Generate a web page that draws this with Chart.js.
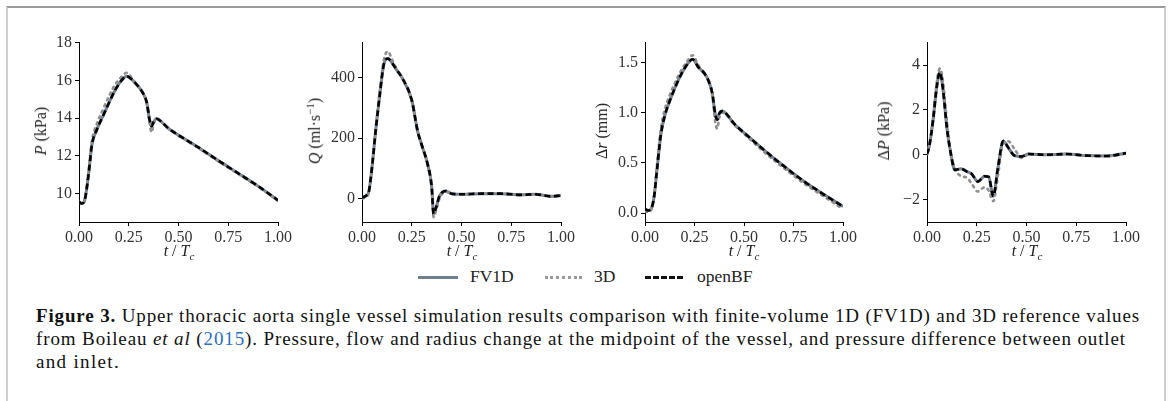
<!DOCTYPE html>
<html>
<head>
<meta charset="utf-8">
<script src="https://cdn.jsdelivr.net/npm/chart.js@4.4.1/dist/chart.umd.min.js"></script>
<style>
  html, body { margin: 0; padding: 0; background: #fff; }
  body { width: 1170px; height: 401px; position: relative; overflow: hidden; font-family: "Liberation Serif", "DejaVu Serif", serif; }
  .frame { position: absolute; left: 6px; top: 6px; width: 1156px; height: 400px; border-top: 2px solid #9a9a9a; border-left: 2px solid #cfcfcf; border-right: 2px solid #cfcfcf; }
  .panel { position: absolute; top: 30px; height: 222px; }
  .xt { position: absolute; top: 242px; font-size: 16px; color: #222; transform: translateX(-50%); white-space: nowrap; }
  .yt { position: absolute; font-size: 16px; color: #222; transform: translate(-50%, -50%) rotate(-90deg); white-space: nowrap; }
  .legend { position: absolute; top: 265px; left: 418px; height: 24px; font-size: 17.5px; color: #222; }
  .legend span { position: absolute; top: 1px; white-space: nowrap; }
  .legend i.s { position: absolute; top: 11px; height: 0; }
  .caption { position: absolute; left: 36px; top: 305px; font-size: 19px; line-height: 22.8px; color: #111; }
  .caption .ln { display: block; white-space: nowrap; }
  .caption a { color: #2a6fc0; text-decoration: none; }
</style>
</head>
<body>
<div class="frame"></div>

<div class="panel" id="p1"><canvas id="c1"></canvas></div>
<div class="panel" id="p2"><canvas id="c2"></canvas></div>
<div class="panel" id="p3"><canvas id="c3"></canvas></div>
<div class="panel" id="p4"><canvas id="c4"></canvas></div>

<div class="yt" style="left:41px; top:131px;"><i>P</i> (kPa)</div>
<div class="yt" style="left:314px; top:131px;"><i>Q</i> (ml·s<sup style="font-size:11px">−1</sup>)</div>
<div class="yt" style="left:602px; top:131px;">Δ<i>r</i> (mm)</div>
<div class="yt" style="left:884px; top:131px;">Δ<i>P</i> (kPa)</div>

<div class="xt" style="left:179px;"><i>t</i> / <i>T</i><sub style="font-size:11px"><i>c</i></sub></div>
<div class="xt" style="left:462px;"><i>t</i> / <i>T</i><sub style="font-size:11px"><i>c</i></sub></div>
<div class="xt" style="left:744px;"><i>t</i> / <i>T</i><sub style="font-size:11px"><i>c</i></sub></div>
<div class="xt" style="left:1027px;"><i>t</i> / <i>T</i><sub style="font-size:11px"><i>c</i></sub></div>

<div class="legend">
  <i class="s" style="left:0; width:40px; border-top:3px solid #708090;"></i>
  <span style="left:52px;">FV1D</span>
  <i class="s" style="left:127px; width:37px; border-top:3px dotted #999;"></i>
  <span style="left:176px;">3D</span>
  <i class="s" style="left:227px; width:38px; border-top:3px dashed #111;"></i>
  <span style="left:279px;">openBF</span>
</div>

<div class="caption">
  <span class="ln" data-w="1104"><b>Figure 3.</b> Upper thoracic aorta single vessel simulation results comparison with finite-volume 1D (FV1D) and 3D reference values</span>
  <span class="ln" data-w="1090">from Boileau <i>et al</i> (<a>2015</a>). Pressure, flow and radius change at the midpoint of the vessel, and pressure difference between outlet</span>
  <span class="ln" data-w="84">and inlet.</span>
</div>

<script>
// temps normalisé t/Tc
const xTicks = [0, 0.25, 0.5, 0.75, 1];

// pression P (kPa)
const tP = [0, 0.013, 0.025, 0.035, 0.05, 0.065, 0.09, 0.12, 0.15, 0.18, 0.21, 0.24, 0.27, 0.30, 0.32, 0.34, 0.355, 0.365, 0.375, 0.39, 0.42, 0.45, 0.5, 0.6, 0.7, 0.8, 0.9, 1.0];
const pFV1D = [9.57, 9.48, 9.55, 10.0, 11.2, 12.6, 13.4, 14.1, 14.8, 15.45, 15.95, 16.22, 16.0, 15.65, 15.35, 14.85, 13.9, 13.57, 13.8, 13.97, 13.75, 13.45, 13.1, 12.45, 11.75, 11.08, 10.4, 9.65];
const p3D = [9.57, 9.5, 9.58, 10.1, 11.4, 12.8, 13.7, 14.45, 15.15, 15.75, 16.15, 16.4, 16.05, 15.65, 15.35, 14.8, 13.7, 13.25, 13.7, 13.95, 13.75, 13.45, 13.08, 12.42, 11.72, 11.05, 10.37, 9.62];
const pOpenBF = [9.57, 9.48, 9.55, 10.0, 11.2, 12.6, 13.4, 14.1, 14.8, 15.45, 15.95, 16.22, 16.0, 15.65, 15.35, 14.85, 13.9, 13.57, 13.8, 13.97, 13.75, 13.45, 13.1, 12.45, 11.75, 11.08, 10.4, 9.65];
const pTicks = [10, 12, 14, 16, 18];

// débit Q (ml/s)
const tQ = [0, 0.02, 0.035, 0.05, 0.07, 0.09, 0.11, 0.13, 0.15, 0.17, 0.2, 0.25, 0.28, 0.3, 0.33, 0.35, 0.36, 0.37, 0.39, 0.42, 0.45, 0.5, 0.6, 0.7, 0.8, 0.87, 0.95, 1.0];
const qFV1D = [3, 9, 25, 102, 233, 348, 446, 464, 451, 430, 402, 326, 222, 178, 113, 40, -51, -35, 9, 25, 16, 14, 16, 16, 12, 14, 7, 10];
const q3D = [0, 5, 22, 100, 240, 360, 460, 488, 462, 435, 402, 326, 222, 178, 113, 35, -62, -45, 0, 22, 16, 14, 16, 16, 12, 14, 7, 10];
const qOpenBF = [3, 9, 25, 102, 233, 348, 446, 464, 451, 430, 402, 326, 222, 178, 113, 40, -51, -35, 9, 25, 16, 14, 16, 16, 12, 14, 7, 10];
const qTicks = [0, 200, 400];

// variation de rayon Δr (mm)
const tR = [0, 0.015, 0.03, 0.045, 0.06, 0.08, 0.1, 0.12, 0.15, 0.18, 0.21, 0.24, 0.27, 0.3, 0.32, 0.34, 0.355, 0.365, 0.375, 0.39, 0.41, 0.45, 0.5, 0.6, 0.7, 0.8, 0.9, 1.0];
const rFV1D = [0.043, 0.026, 0.04, 0.15, 0.42, 0.78, 0.97, 1.09, 1.24, 1.37, 1.47, 1.53, 1.45, 1.39, 1.32, 1.19, 0.98, 0.93, 0.99, 1.015, 0.99, 0.89, 0.8, 0.63, 0.47, 0.32, 0.19, 0.066];
const r3D = [0.02, 0.01, 0.03, 0.16, 0.47, 0.84, 1.03, 1.15, 1.29, 1.41, 1.5, 1.57, 1.47, 1.39, 1.32, 1.17, 0.9, 0.84, 0.95, 1.0, 0.98, 0.88, 0.79, 0.61, 0.45, 0.3, 0.17, 0.04];
const rOpenBF = [0.043, 0.026, 0.04, 0.15, 0.42, 0.78, 0.97, 1.09, 1.24, 1.37, 1.47, 1.53, 1.45, 1.39, 1.32, 1.19, 0.98, 0.93, 0.99, 1.015, 0.99, 0.89, 0.8, 0.63, 0.47, 0.32, 0.19, 0.066];
const rTicks = [0.0, 0.5, 1.0, 1.5];

// différence de pression ΔP (kPa)
const tD = [0, 0.01, 0.03, 0.05, 0.065, 0.08, 0.1, 0.12, 0.14, 0.17, 0.2, 0.225, 0.255, 0.29, 0.31, 0.333, 0.357, 0.383, 0.408, 0.44, 0.475, 0.51, 0.6, 0.7, 0.8, 0.9, 1.0];
const dFV1D = [0.03, 0.32, 1.5, 3.1, 3.68, 2.95, 1.2, 0.03, -0.68, -0.62, -0.75, -0.86, -1.2, -0.96, -0.99, -1.85, -0.55, 0.61, 0.32, -0.04, -0.08, 0.03, 0.0, 0.03, -0.04, -0.06, 0.07];
const d3D = [0.03, 0.35, 1.6, 3.3, 3.85, 3.3, 1.5, 0.1, -0.6, -0.95, -1.02, -1.3, -1.64, -1.45, -1.6, -2.07, -0.9, 0.5, 0.6, 0.25, -0.14, 0.0, 0.0, 0.03, -0.04, -0.06, 0.05];
const dOpenBF = [0.03, 0.32, 1.5, 3.1, 3.68, 2.95, 1.2, 0.03, -0.68, -0.62, -0.75, -0.86, -1.2, -0.96, -0.99, -1.85, -0.55, 0.61, 0.32, -0.04, -0.08, 0.03, 0.0, 0.03, -0.04, -0.06, 0.07];
const dTicks = [-2, 0, 2, 4];

const font = { family: '"Liberation Serif", "DejaVu Serif", serif', size: 16 };

function pts(t, v){
  return t.map((x, i) => ({ x, y: v[i] }));
}

function makePanel(id, wrap, axL, axR, t, fv, d3, bf, yMin, yMax, yTicks, yFmt){
  const box = document.getElementById(wrap);
  const W = axR - axL + 75;
  box.style.left = (axL - 55) + "px";
  box.style.width = W + "px";

  return new Chart(document.getElementById(id), {
    type: "line",
    data: {
      datasets: [
        { label: "FV1D", data: pts(t, fv), borderColor: "#708090", borderWidth: 3, order: 2 },
        { label: "3D", data: pts(t, d3), borderColor: "#8f8f8f", borderWidth: 2.6, borderDash: [2, 4.5], borderCapStyle: "round", order: 1 },
        { label: "openBF", data: pts(t, bf), borderColor: "#000", borderWidth: 2.6, borderDash: [6, 3.5], order: 0 }
      ]
    },
    options: {
      responsive: true,
      maintainAspectRatio: false,
      animation: false,
      layout: { padding: { top: 10, right: 20, left: 0, bottom: 0 } },
      elements: { point: { radius: 0 }, line: { cubicInterpolationMode: "monotone", fill: false } },
      plugins: { legend: { display: false }, tooltip: { enabled: false } },
      scales: {
        x: {
          type: "linear", min: 0, max: 1,
          afterBuildTicks: s => { s.ticks = xTicks.map(v => ({ value: v })); },
          afterFit: s => { s.height = 30; },
          ticks: { font, color: "#333", padding: 2, maxRotation: 0, callback: v => v.toFixed(2) },
          grid: { display: true, drawOnChartArea: false, drawTicks: true, tickLength: 4, color: "#000" },
          border: { display: true, color: "#000", width: 1 }
        },
        y: {
          type: "linear", min: yMin, max: yMax,
          afterBuildTicks: s => { s.ticks = yTicks.map(v => ({ value: v })); },
          afterFit: s => { s.width = 55; },
          ticks: { font, color: "#333", padding: 3, callback: yFmt },
          grid: { display: true, drawOnChartArea: false, drawTicks: true, tickLength: 4, color: "#000" },
          border: { display: true, color: "#000", width: 1 }
        }
      }
    }
  });
}

const minus = v => (v < 0 ? "\u2212" + Math.abs(v) : String(v));

makePanel("c1", "p1", 79, 278, tP, pFV1D, p3D, pOpenBF, 8.5, 18, pTicks, v => String(v));
makePanel("c2", "p2", 362, 561, tQ, qFV1D, q3D, qOpenBF, -78, 517, qTicks, v => String(v));
makePanel("c3", "p3", 645, 843, tR, rFV1D, r3D, rOpenBF, -0.088, 1.696, rTicks, v => v.toFixed(1));
makePanel("c4", "p4", 927, 1126, tD, dFV1D, d3D, dOpenBF, -3, 5, dTicks, minus);

// légende : étirer chaque ligne à la largeur de la figure d'origine
document.querySelectorAll(".caption .ln").forEach(el => {
  el.style.display = "inline-block";
  const w = el.getBoundingClientRect().width;
  const n = el.textContent.length;
  el.style.letterSpacing = ((+el.dataset.w - w) / n) + "px";
  el.style.display = "block";
});
</script>
</body>
</html>
